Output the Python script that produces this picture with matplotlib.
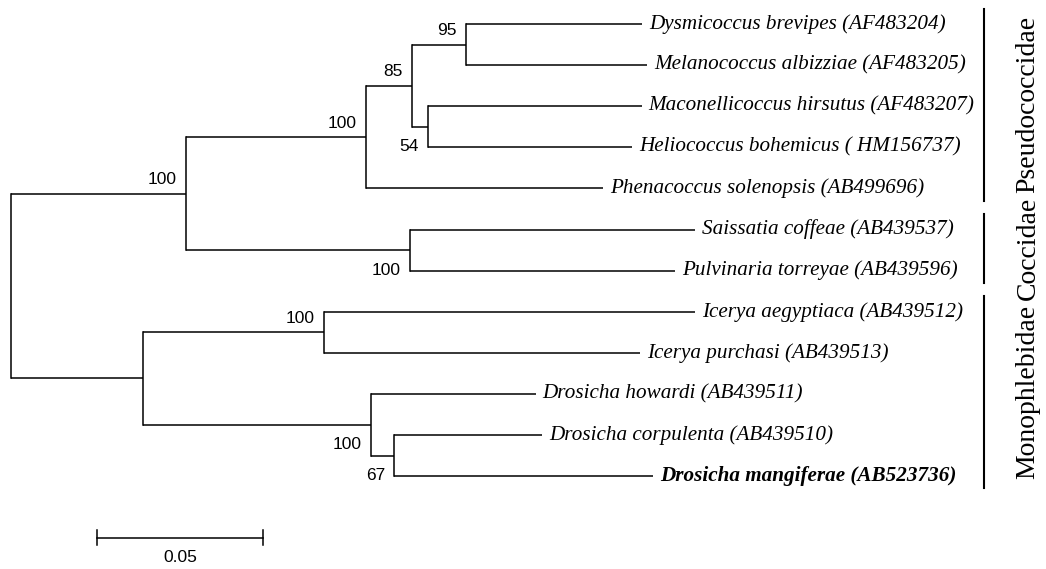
import matplotlib
matplotlib.use("Agg")
import matplotlib.pyplot as plt

# 树结构: 叶 = (枝长, 名称), 内部节点 = (枝长, 支持率, 标注位置, 子节点)
tree = (0.0, None, None, [
    (0.0527, 100, "above", [
        (0.0542, 100, "above", [
            (0.0139, 85, "above", [
                (0.0162, 95, "above", [
                    (0.0530, "Dysmicoccus brevipes (AF483204)"),
                    (0.0546, "Melanococcus albizziae (AF483205)"),
                ]),
                (0.0048, 54, "below", [
                    (0.0644, "Maconellicoccus hirsutus (AF483207)"),
                    (0.0614, "Heliococcus bohemicus ( HM156737)"),
                ]),
            ]),
            (0.0714, "Phenacoccus solenopsis (AB499696)"),
        ]),
        (0.0675, 100, "below", [
            (0.0858, "Saissatia coffeae (AB439537)"),
            (0.0798, "Pulvinaria torreyae (AB439596)"),
        ]),
    ]),
    (0.0398, None, None, [
        (0.0545, 100, "above", [
            (0.1117, "Icerya aegyptiaca (AB439512)"),
            (0.0952, "Icerya purchasi (AB439513)"),
        ]),
        (0.0686, 100, "below", [
            (0.0496, "Drosicha howardi (AB439511)"),
            (0.0070, 67, "below", [
                (0.0446, "Drosicha corpulenta (AB439510)"),
                (0.0780, "Drosicha mangiferae (AB523736)"),
            ]),
        ]),
    ]),
])

highlight = ["Drosicha mangiferae (AB523736)"]

# 科名: (名称, 第一个叶序号, 最后一个叶序号)
clades = [
    ("Pseudococcidae", 0, 4),
    ("Coccidae", 5, 6),
    ("Monophlebidae", 7, 11),
]

scale_len = 0.05

fig = plt.figure(figsize=(10.46, 5.69), dpi=100)
ax = fig.add_axes([0, 0, 1, 1])
ax.set_xlim(-11 / 3320, 1035 / 3320)
ax.set_ylim(545 / 41.1, -24 / 41.1)
ax.axis("off")

lw = 1.1
leaf_counter = [0]


def draw(node, x0, parent_x):
    """递归画树，返回节点的 y"""
    if len(node) == 2:
        bl, name = node
        x = x0 + bl
        y = leaf_counter[0]
        leaf_counter[0] += 1
        ax.plot([parent_x, x], [y, y], color="black", lw=lw, solid_capstyle="butt")
        bold = name in highlight
        ax.annotate(name, (x, y), xytext=(5, 0), textcoords="offset points",
                    ha="left", va="center", fontsize=15.2, style="italic",
                    fontweight="bold" if bold else "normal",
                    family="Liberation Serif")
        return y
    bl, support, side, children = node
    x = x0 + bl
    ys = [draw(c, x, x) for c in children]
    y = (ys[0] + ys[-1]) / 2
    ax.plot([x, x], [ys[0], ys[-1]], color="black", lw=lw, solid_capstyle="projecting")
    if parent_x is not None:
        ax.plot([parent_x, x], [y, y], color="black", lw=lw, solid_capstyle="butt")
    if support is not None:
        dy = 10 if side == "above" else -14.5
        ax.annotate(str(support), (x, y), xytext=(-6.5, dy), textcoords="offset points",
                    ha="right", va="center", fontsize=12.5, family="Liberation Sans")
    return y


draw(tree, 0.0, None)

# 科名竖线与文字
bar_x = 973 / 3320
text_x = 1017 / 3320
for name, first, last in clades:
    ax.plot([bar_x, bar_x], [first - 0.37, last + 0.3], color="black", lw=1.5)
    ax.text(text_x, (first + last) / 2 - 0.05, name, rotation=90, ha="center", va="center",
            fontsize=20, family="Liberation Serif")

# 比例尺
sx = 86 / 3320
sy = 12.5
ax.plot([sx, sx + scale_len], [sy, sy], color="black", lw=lw)
for xx in (sx, sx + scale_len):
    ax.plot([xx, xx], [sy - 0.18, sy + 0.18], color="black", lw=lw)
ax.annotate(f"{scale_len:g}", (sx + scale_len / 2, sy), xytext=(0, -14), textcoords="offset points",
            ha="center", va="center", fontsize=12.5, family="Liberation Sans")

fig.savefig("out.png", dpi=100)
